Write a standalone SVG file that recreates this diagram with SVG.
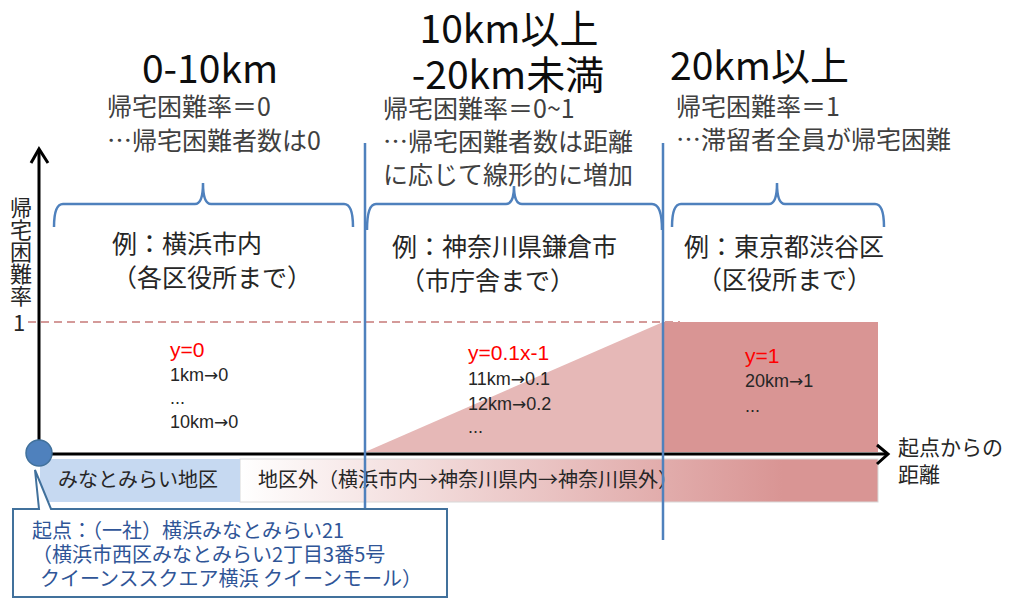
<svg xmlns="http://www.w3.org/2000/svg" width="1017" height="601" viewBox="0 0 1017 601">
<defs>
<style>
.jp{font-family:"Noto Sans CJK JP","Noto Sans",sans-serif;fill:#262626}
.t{font-size:39px;fill:#0d0d0d}
.s{font-size:25px;fill:#404040}
.e{font-size:25px;fill:#262626}
.d{font-family:"Liberation Sans","Noto Sans CJK JP",sans-serif;font-size:18px;fill:#262626}
.ar{font-family:"DejaVu Sans",sans-serif;font-size:17px}
.r{font-family:"Liberation Sans",sans-serif;font-size:21px;fill:#ff0000}
.brace{fill:none;stroke:#4f81bd;stroke-width:2.5}
.vline{stroke:#4f81bd;stroke-width:2.5}
.axis{stroke:#000;stroke-width:3;fill:none}
.cb{font-size:20px;fill:#2f5597}
</style>
<linearGradient id="g1" x1="0" y1="0" x2="1" y2="0">
<stop offset="0" stop-color="#ffffff"/>
<stop offset="0.85" stop-color="#d99594"/>
<stop offset="1" stop-color="#d99594"/>
</linearGradient>
</defs>
<rect width="1017" height="601" fill="#fff"/>

<g id="regions">
<polygon points="365,452 663,322 663,452" fill="#e6b8b7"/>
<rect x="663" y="322" width="215" height="130" fill="#d99594"/>
<line x1="28" y1="322" x2="680" y2="322" stroke="#d49a99" stroke-width="2" stroke-dasharray="8,5"/>
</g>

<g id="bar">
<rect x="240" y="459" width="638" height="43" fill="url(#g1)" stroke="#d8d8d8" stroke-width="1"/>
<rect x="40" y="459" width="200" height="43" fill="#c6d9f1"/>
<text class="jp" x="58" y="487" font-size="20">みなとみらい地区</text>
<text class="jp" x="258" y="487" font-size="20">地区外（横浜市内→神奈川県内→神奈川県外）</text>
</g>

<g id="connectors">
<line class="axis" x1="39" y1="454" x2="39" y2="149"/>
<polyline class="axis" points="31,163 39,149 48,163"/>
<line class="axis" x1="39" y1="454" x2="887" y2="454"/>
<polyline class="axis" points="877,445 888,454 877,464"/>
<line class="vline" x1="365" y1="143" x2="365" y2="510"/>
<line class="vline" x1="663" y1="143" x2="663" y2="540"/>
<path class="brace" d="M54,227 Q54,204 63,204 L195,204 Q203,204 203,183 Q203,204 211,204 L344,204 Q353,204 353,227"/>
<path class="brace" d="M367,230 Q367,204 376,204 L506,204 Q514,204 514,186 Q514,204 522,204 L652,204 Q662,204 662,230"/>
<path class="brace" d="M672,227 Q672,204 681,204 L769,204 Q777,204 777,183 Q777,204 785,204 L875,204 Q884,204 884,227"/>
</g>

<g id="axis-labels">
<text class="jp" x="21" y="197" font-size="22" writing-mode="vertical-rl" fill="#404040">帰宅困難率</text>
<text class="jp" x="19" y="331" font-size="22" text-anchor="middle" fill="#404040">1</text>
<text class="jp" x="898" y="455" font-size="21" fill="#404040">起点からの</text>
<text class="jp" x="898" y="482" font-size="21" fill="#404040">距離</text>
</g>

<g id="zone1">
<text class="jp t" x="210" y="83" text-anchor="middle">0-10km</text>
<text class="jp s" x="107" y="116">帰宅困難率＝0</text>
<text class="jp s" x="107" y="150">…帰宅困難者数は0</text>
<text class="jp e" x="112" y="253">例：横浜市内</text>
<text class="jp e" x="112" y="287">（各区役所まで）</text>
<text class="r" x="170" y="357">y=0</text>
<text class="d" x="170" y="381">1km<tspan class="ar">→</tspan>0</text>
<text class="d" x="170" y="404">...</text>
<text class="d" x="170" y="428">10km<tspan class="ar">→</tspan>0</text>
</g>

<g id="zone2">
<text class="jp t" x="509" y="43" text-anchor="middle">10km以上</text>
<text class="jp t" x="508" y="89" text-anchor="middle">-20km未満</text>
<text class="jp s" x="383" y="118">帰宅困難率＝0~1</text>
<text class="jp s" x="383" y="151">…帰宅困難者数は距離</text>
<text class="jp s" x="383" y="184">に応じて線形的に増加</text>
<text class="jp e" x="392" y="256">例：神奈川県鎌倉市</text>
<text class="jp e" x="400" y="290">（市庁舎まで）</text>
<text class="r" x="468" y="360">y=0.1x-1</text>
<text class="d" x="468" y="385">11km<tspan class="ar">→</tspan>0.1</text>
<text class="d" x="468" y="410">12km<tspan class="ar">→</tspan>0.2</text>
<text class="d" x="468" y="433">...</text>
</g>

<g id="zone3">
<text class="jp t" x="670" y="80">20km以上</text>
<text class="jp s" x="676" y="116">帰宅困難率＝1</text>
<text class="jp s" x="676" y="149">…滞留者全員が帰宅困難</text>
<text class="jp e" x="684" y="256">例：東京都渋谷区</text>
<text class="jp e" x="697" y="289">（区役所まで）</text>
<text class="r" x="745" y="363">y=1</text>
<text class="d" x="745" y="387">20km<tspan class="ar">→</tspan>1</text>
<text class="d" x="745" y="412">...</text>
</g>

<g id="origin">
<circle cx="39" cy="453" r="13" fill="#4f81bd" stroke="#41719c" stroke-width="1.5"/>
</g>

<g id="callout">
<path d="M13,509 L39,509 L35,470 L51,509 L447,509 L447,597 L13,597 Z" fill="#fff" stroke="#41719c" stroke-width="2"/>
<text class="jp cb" x="32" y="538">起点：（一社）横浜みなとみらい21</text>
<text class="jp cb" x="32" y="562">（横浜市西区みなとみらい2丁目3番5号</text>
<text class="jp cb" x="40" y="586">クイーンススクエア横浜 クイーンモール）</text>
</g>
</svg>
